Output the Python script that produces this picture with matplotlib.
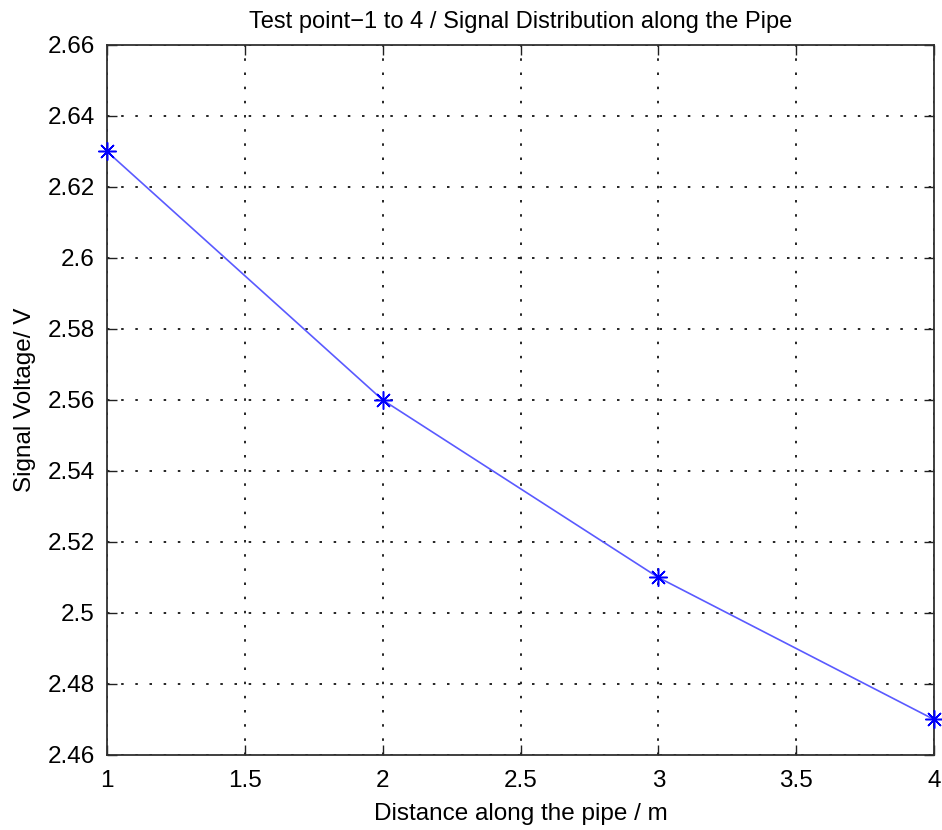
import matplotlib
matplotlib.use("Agg")
import matplotlib.pyplot as plt

plt.rcParams['font.family'] = ['Liberation Sans', 'DejaVu Sans']

distance = [1, 2, 3, 4]
voltage = [2.63, 2.56, 2.51, 2.47]
xticks = [1, 1.5, 2, 2.5, 3, 3.5, 4]
xticklabels = ['1', '1.5', '2', '2.5', '3', '3.5', '4']
yticks = [2.46, 2.48, 2.5, 2.52, 2.54, 2.56, 2.58, 2.6, 2.62, 2.64, 2.66]
yticklabels = ['2.46', '2.48', '2.5', '2.52', '2.54', '2.56', '2.58', '2.6', '2.62', '2.64', '2.66']

fig = plt.figure(figsize=(9.42, 8.3), dpi=100)
ax = fig.add_axes([0.1136, 0.0904, 0.8779, 0.8554])

ax.plot(distance, voltage, color='#5a5aff', linewidth=1.2, zorder=3)
ax.plot(distance, voltage, linestyle='none', marker=(8, 2, 0), markersize=13,
        color='#0000ff', markeredgecolor='#0000ff', markeredgewidth=1.1,
        clip_on=False, zorder=4)

ax.set_xlim(1, 4)
ax.set_ylim(2.46, 2.66)
ax.set_xticks(xticks)
ax.set_xticklabels(xticklabels)
ax.set_yticks(yticks)
ax.set_yticklabels(yticklabels)

ax.grid(True, color='black', linestyle=(0, (1.5, 7)), linewidth=1.2)
ax.tick_params(direction='in', length=7, width=1, labelsize=17.5,
               top=True, right=True, colors='#202020', labelcolor='black')
ax.tick_params(axis='x', pad=11)
ax.tick_params(axis='y', pad=9)
for s in ax.spines.values():
    s.set_color('#303030')
    s.set_linewidth(1.3)

ax.set_title('Test point\u22121 to 4 / Signal Distribution along the Pipe', fontsize=17, pad=12)
ax.set_xlabel('Distance along the pipe / m', fontsize=17.5, labelpad=8)
ax.set_ylabel('Signal Voltage/ V', fontsize=17.5, labelpad=8)

fig.savefig('out.png', dpi=100)
